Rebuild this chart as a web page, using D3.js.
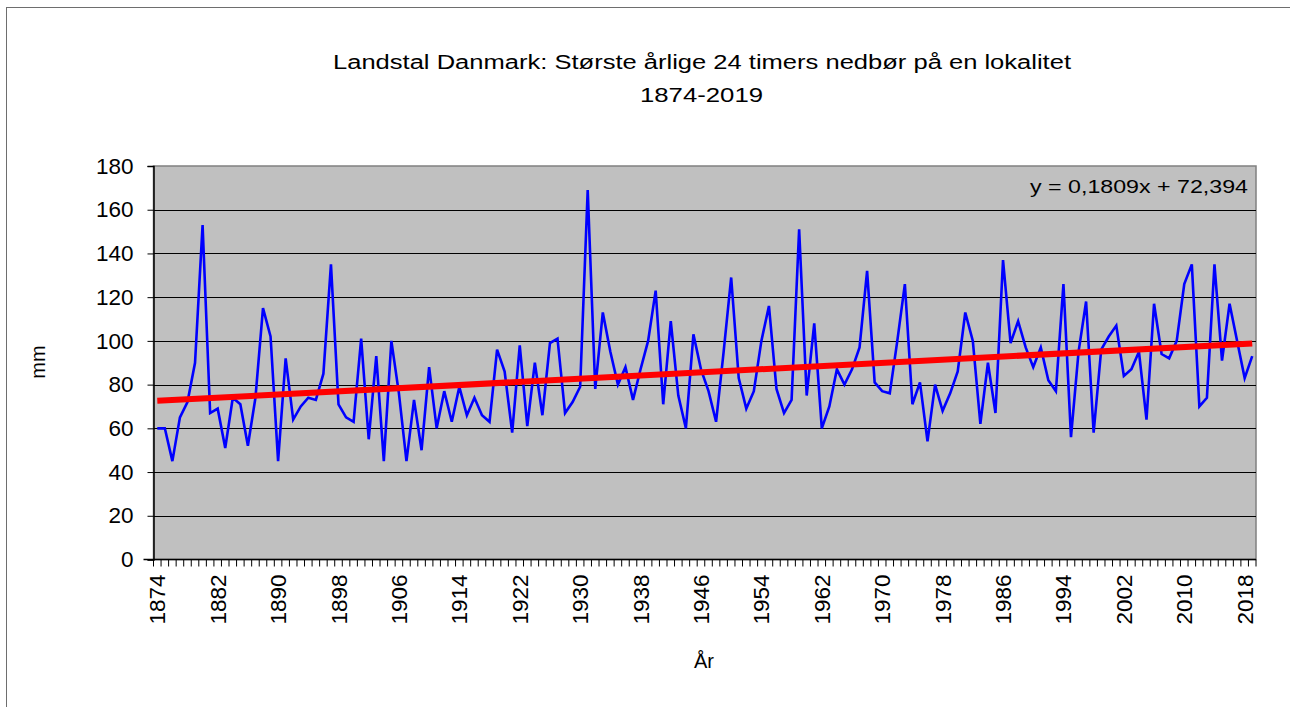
<!DOCTYPE html>
<html>
<head>
<meta charset="utf-8">
<script src="https://cdn.jsdelivr.net/npm/d3@7"></script>
<style>
  body { margin: 0; background: #fff; }
  text { font-family: "Liberation Sans", Arial, sans-serif; fill: #000; }
</style>
</head>
<body>
<div id="chart"></div>
<script>
var years = d3.range(1874, 2020);

// largest 24h rainfall per year (mm)
var values = [
  60, 60, 45, 65, 72, 90, 153, 67, 69, 51,      // 1874-1883
  74, 71, 52, 74, 115, 102, 45, 92, 64, 70,     // 1884-1893
  74, 73, 85, 135, 71, 65, 63, 101, 55, 93,     // 1894-1903
  45, 100, 76, 45, 73, 50, 88, 60, 77, 63,      // 1904-1913
  79, 66, 74, 66, 63, 96, 86, 58, 98, 61,       // 1914-1923
  90, 66, 99, 101, 67, 72, 79, 169, 78, 113,    // 1924-1933
  95, 80, 88, 73, 87, 100, 123, 71, 109, 75,    // 1934-1943
  60, 103, 87, 77, 63, 95, 129, 83, 69, 77,     // 1944-1953
  100, 116, 78, 67, 73, 151, 75, 108, 60, 70,   // 1954-1963
  87, 80, 87, 97, 132, 81, 77, 76, 100, 126,    // 1964-1973
  71, 81, 54, 80, 68, 76, 86, 113, 100, 62,     // 1974-1983
  90, 67, 137, 99, 109, 97, 88, 97, 82, 77,     // 1984-1993
  126, 56, 95, 118, 58, 96, 102, 107, 84, 87,   // 1994-2003
  95, 64, 117, 94, 92, 100, 126, 135, 70, 74,   // 2004-2013
  135, 91, 117, 100, 83, 93                     // 2014-2019
];

var yTicks = [0, 20, 40, 60, 80, 100, 120, 140, 160, 180];
var xLabelYears = d3.range(1874, 2020, 8);

// linear trendline shown in the chart: y = 0,1809x + 72,394 (x = 1..n)
var trendSlope = 0.1809;
var trendIntercept = 72.394;

var W = 1290, H = 707;
var pLeft = 153.5, pRight = 1256, pTop = 166, pBottom = 559.5;

var svg = d3.select("#chart")
  .append("svg")
    .attr("width", W)
    .attr("height", H);

// chart border (right and bottom edges fall off the picture)
svg.append("rect")
    .attr("x", 6.5)
    .attr("y", 7.5)
    .attr("width", W + 10)
    .attr("height", H + 10)
    .attr("fill", "#fff")
    .attr("stroke", "#6e6e6e")
    .attr("stroke-width", 1);

var x = d3.scaleBand()
    .domain(years)
    .range([pLeft, pRight])
    .padding(0);

var y = d3.scaleLinear()
    .domain([0, 180])
    .range([pBottom, pTop]);

var cx = function(yr) { return x(yr) + x.bandwidth() / 2; };

// plot area
svg.append("rect")
    .attr("x", pLeft)
    .attr("y", pTop)
    .attr("width", pRight - pLeft)
    .attr("height", pBottom - pTop)
    .attr("fill", "#c0c0c0")
    .attr("stroke", "#808080")
    .attr("stroke-width", 1.5);

// gridlines
svg.append("g")
  .selectAll("line")
  .data(yTicks.filter(function(d) { return d > 0 && d < 180; }))
  .enter().append("line")
    .attr("x1", pLeft)
    .attr("x2", pRight)
    .attr("y1", function(d) { return Math.round(y(d)) + 0.5; })
    .attr("y2", function(d) { return Math.round(y(d)) + 0.5; })
    .attr("stroke", "#000")
    .attr("stroke-width", 1);

// y axis
var yAxis = svg.append("g")
    .attr("transform", "translate(" + pLeft + ",0)")
    .call(d3.axisLeft(y).tickValues(yTicks).tickSize(6).tickPadding(14));
yAxis.select(".domain").attr("stroke", "#000").attr("stroke-width", 1.5);
yAxis.selectAll(".tick line").attr("stroke", "#000");
yAxis.selectAll("text")
    .style("font-size", "22.5px")
    .style("font-family", "Liberation Sans, Arial, sans-serif");

// x axis: ticks between years, labels every 8 years
var xg = svg.append("g")
    .attr("transform", "translate(0," + pBottom + ")");
xg.append("line")
    .attr("x1", pLeft - 10)
    .attr("x2", pRight)
    .attr("stroke", "#000")
    .attr("stroke-width", 1.5);
xg.selectAll(".tk")
  .data(years.concat([2020]))
  .enter().append("line")
    .attr("class", "tk")
    .attr("x1", function(d) { return d === 2020 ? pRight : x(d); })
    .attr("x2", function(d) { return d === 2020 ? pRight : x(d); })
    .attr("y1", 0)
    .attr("y2", 7)
    .attr("stroke", "#000")
    .attr("stroke-width", 1);
xg.selectAll(".lbl")
  .data(xLabelYears)
  .enter().append("text")
    .attr("class", "lbl")
    .attr("transform", function(d) {
      return "translate(" + (cx(d) + 8) + ",15) rotate(-90)";
    })
    .attr("text-anchor", "end")
    .style("font-size", "22.5px")
    .text(function(d) { return d; });

// data line
var line = d3.line()
    .x(function(d, i) { return cx(years[i]); })
    .y(function(d) { return y(d); });

svg.append("path")
    .datum(values)
    .attr("d", line)
    .attr("fill", "none")
    .attr("stroke", "#0000ff")
    .attr("stroke-width", 2.6)
    .attr("stroke-linejoin", "miter");

// trendline
var n = years.length;
svg.append("line")
    .attr("x1", cx(years[0]))
    .attr("x2", cx(years[n - 1]))
    .attr("y1", y(trendSlope * 1 + trendIntercept))
    .attr("y2", y(trendSlope * n + trendIntercept))
    .attr("stroke", "#ff0000")
    .attr("stroke-width", 6);

svg.append("text")
    .attr("x", 1030)
    .attr("y", 193)
    .attr("textLength", 218)
    .attr("lengthAdjust", "spacingAndGlyphs")
    .style("font-size", "19px")
    .text("y = 0,1809x + 72,394");

// titles
svg.append("text")
    .attr("x", 333)
    .attr("y", 69)
    .attr("textLength", 738)
    .attr("lengthAdjust", "spacingAndGlyphs")
    .style("font-size", "20px")
    .text("Landstal Danmark: Største årlige 24 timers nedbør på en lokalitet");
svg.append("text")
    .attr("x", 640)
    .attr("y", 102)
    .attr("textLength", 123)
    .attr("lengthAdjust", "spacingAndGlyphs")
    .style("font-size", "20px")
    .text("1874-2019");

svg.append("text")
    .attr("transform", "translate(45,362) rotate(-90)")
    .attr("text-anchor", "middle")
    .style("font-size", "20px")
    .text("mm");

svg.append("text")
    .attr("x", 704)
    .attr("y", 668)
    .attr("text-anchor", "middle")
    .style("font-size", "20px")
    .text("År");
</script>
</body>
</html>
